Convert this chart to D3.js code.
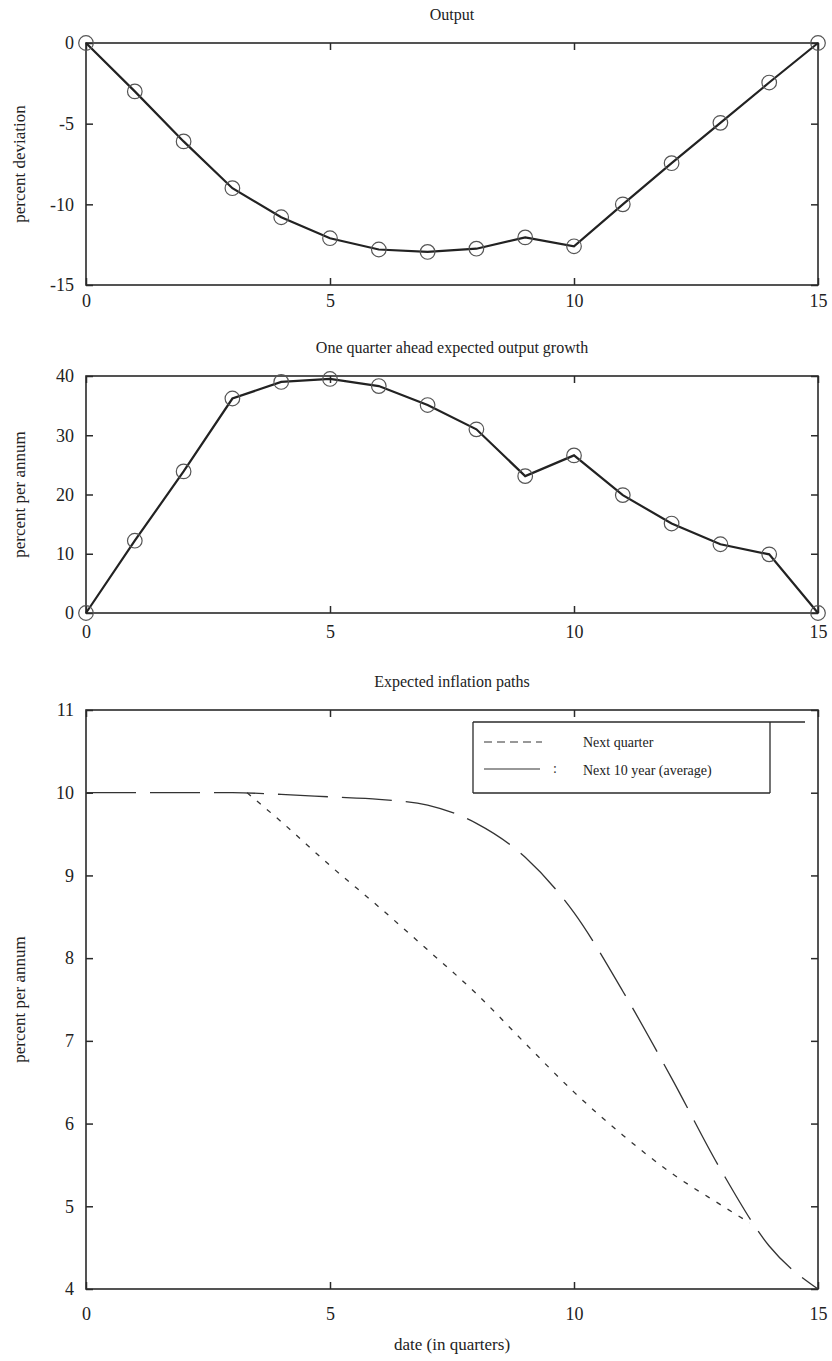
<!DOCTYPE html>
<html>
<head>
<meta charset="utf-8">
<script src="https://cdn.jsdelivr.net/npm/d3@7"></script>
<style>
  body { margin:0; background:#ffffff; }
  svg { font-family:"Liberation Serif","DejaVu Serif",serif; }
</style>
</head>
<body>
<svg id="chart" width="832" height="1361"></svg>
<script>
// values
var quarters = [0,1,2,3,4,5,6,7,8,9,10,11,12,13,14,15];
var outputDev = [0,-3,-6.1,-9,-10.8,-12.1,-12.8,-12.95,-12.75,-12.05,-12.6,-10,-7.45,-4.95,-2.45,0];
var outputGrowth = [0,12.2,23.9,36.2,39.0,39.5,38.3,35.1,31.0,23.1,26.6,19.9,15.1,11.6,9.9,0];
var inflLong = [10,10,10,10,9.98,9.95,9.92,9.85,9.63,9.22,8.55,7.6,6.55,5.45,4.52,4.0];
var inflShortX = [3.3,4,5,6,7,8,9,10,11,12,13,13.6];
var inflShort = [10,9.65,9.12,8.62,8.1,7.57,6.97,6.38,5.86,5.4,5.02,4.8];

var xTicks = [0,5,10,15];
var ticks1 = [-15,-10,-5,0];
var ticks2 = [0,10,20,30,40];
var ticks3 = [4,5,6,7,8,9,10,11];
var legendLabels = ["Next quarter","Next 10 year (average)"];

var svg = d3.select("#chart");
var left = 86, right = 818;
var inkColor = "#2a2a2a";

var x = d3.scaleLinear().domain([0,15]).range([left,right]);
var plainNum = function(d){ return String(d); };   // hyphen minus, no decimals

function drawPanel(top, bottom, ydomain, yticks, title, ylabel, xpad){

    var y = d3.scaleLinear().domain(ydomain).range([bottom, top]);
    var g = svg.append("g");

    g.append("g").attr("transform","translate(0,"+bottom+")")
        .call(d3.axisBottom(x).tickValues(xTicks).tickSize(-7).tickPadding(xpad).tickFormat(plainNum));
    g.append("g").attr("transform","translate(0,"+top+")")
        .call(d3.axisTop(x).tickValues(xTicks).tickSize(-7).tickFormat(""));
    g.append("g").attr("transform","translate("+left+",0)")
        .call(d3.axisLeft(y).tickValues(yticks).tickSize(-7).tickPadding(12).tickFormat(plainNum));
    g.append("g").attr("transform","translate("+right+",0)")
        .call(d3.axisRight(y).tickValues(yticks).tickSize(-7).tickFormat(""));

    g.selectAll(".domain").remove();
    g.selectAll(".tick line").attr("stroke",inkColor).attr("stroke-width",1.5);
    g.selectAll(".tick text")
        .style("font-family","Liberation Serif")
        .style("font-size","18px")
        .attr("fill","#222");

    g.append("rect")
        .attr("x",left).attr("y",top)
        .attr("width",right-left).attr("height",bottom-top)
        .attr("fill","none").attr("stroke",inkColor).attr("stroke-width",1.6);

    g.append("text")
        .attr("x",(left+right)/2).attr("y",top-23)
        .attr("text-anchor","middle")
        .style("font-size","16px").attr("fill","#222")
        .text(title);

    g.append("text")
        .attr("transform","translate(25,"+((top+bottom)/2)+") rotate(-90)")
        .attr("text-anchor","middle")
        .style("font-size","17px").attr("fill","#222")
        .text(ylabel);

    return y;
}

// panel 1 : output
var y1 = drawPanel(43, 285, [-15,0], ticks1, "Output", "percent deviation", 9);

svg.append("path")
    .datum(quarters)
    .attr("fill","none").attr("stroke","#222").attr("stroke-width",2.2)
    .attr("d", d3.line().x(function(d){ return x(d); }).y(function(d,i){ return y1(outputDev[i]); }));

svg.selectAll(".m1").data(quarters).enter().append("circle")
    .attr("class","m1")
    .attr("cx",function(d){ return x(d); })
    .attr("cy",function(d,i){ return y1(outputDev[i]); })
    .attr("r",7.3)
    .attr("fill","none").attr("stroke","#555").attr("stroke-width",1.2);

// panel 2 : expected output growth
var y2 = drawPanel(376, 613, [0,40], ticks2, "One quarter ahead expected output growth", "percent per annum", 12);

svg.append("path")
    .datum(quarters)
    .attr("fill","none").attr("stroke","#222").attr("stroke-width",2.2)
    .attr("d", d3.line().x(function(d){ return x(d); }).y(function(d,i){ return y2(outputGrowth[i]); }));

svg.selectAll(".m2").data(quarters).enter().append("circle")
    .attr("class","m2")
    .attr("cx",function(d){ return x(d); })
    .attr("cy",function(d,i){ return y2(outputGrowth[i]); })
    .attr("r",7.3)
    .attr("fill","none").attr("stroke","#555").attr("stroke-width",1.2);

// panel 3 : inflation paths
var y3 = drawPanel(710, 1289, [4,11], ticks3, "Expected inflation paths", "percent per annum", 18);

svg.append("path")
    .datum(quarters)
    .attr("fill","none").attr("stroke","#333").attr("stroke-width",1.3)
    .attr("stroke-dasharray","50,14")
    .attr("d", d3.line().x(function(d){ return x(d); }).y(function(d,i){ return y3(inflLong[i]); }).curve(d3.curveMonotoneX));

svg.append("path")
    .datum(inflShortX)
    .attr("fill","none").attr("stroke","#333").attr("stroke-width",1.3)
    .attr("stroke-dasharray","5,8")
    .attr("d", d3.line().x(function(d){ return x(d); }).y(function(d,i){ return y3(inflShort[i]); }).curve(d3.curveMonotoneX));

svg.append("text")
    .attr("x",(left+right)/2).attr("y",1350)
    .attr("text-anchor","middle")
    .style("font-size","17px").attr("fill","#222")
    .text("date (in quarters)");

// legend box (top edge runs past the box, as in the figure)
var lg = svg.append("g");
lg.append("line").attr("x1",473).attr("x2",805).attr("y1",722).attr("y2",722)
    .attr("stroke",inkColor).attr("stroke-width",1.3);
lg.append("line").attr("x1",473).attr("x2",770).attr("y1",793).attr("y2",793)
    .attr("stroke",inkColor).attr("stroke-width",1.3);
lg.append("line").attr("x1",473).attr("x2",473).attr("y1",722).attr("y2",793)
    .attr("stroke",inkColor).attr("stroke-width",1.3);
lg.append("line").attr("x1",770).attr("x2",770).attr("y1",722).attr("y2",793)
    .attr("stroke",inkColor).attr("stroke-width",1.3);

lg.append("line").attr("x1",484).attr("x2",542).attr("y1",742).attr("y2",742)
    .attr("stroke","#333").attr("stroke-width",1.2).attr("stroke-dasharray","8,5");
lg.append("line").attr("x1",484).attr("x2",540).attr("y1",769).attr("y2",769)
    .attr("stroke","#333").attr("stroke-width",1.2);
lg.append("text").attr("x",553).attr("y",773).style("font-size","14px").attr("fill","#333").text(":");

lg.selectAll(".lgText").data(legendLabels).enter().append("text")
    .attr("class","lgText")
    .attr("x",583)
    .attr("y",function(d,i){ return 747+i*28; })
    .style("font-size","14px").attr("fill","#222")
    .text(function(d){ return d; });
</script>
</body>
</html>
